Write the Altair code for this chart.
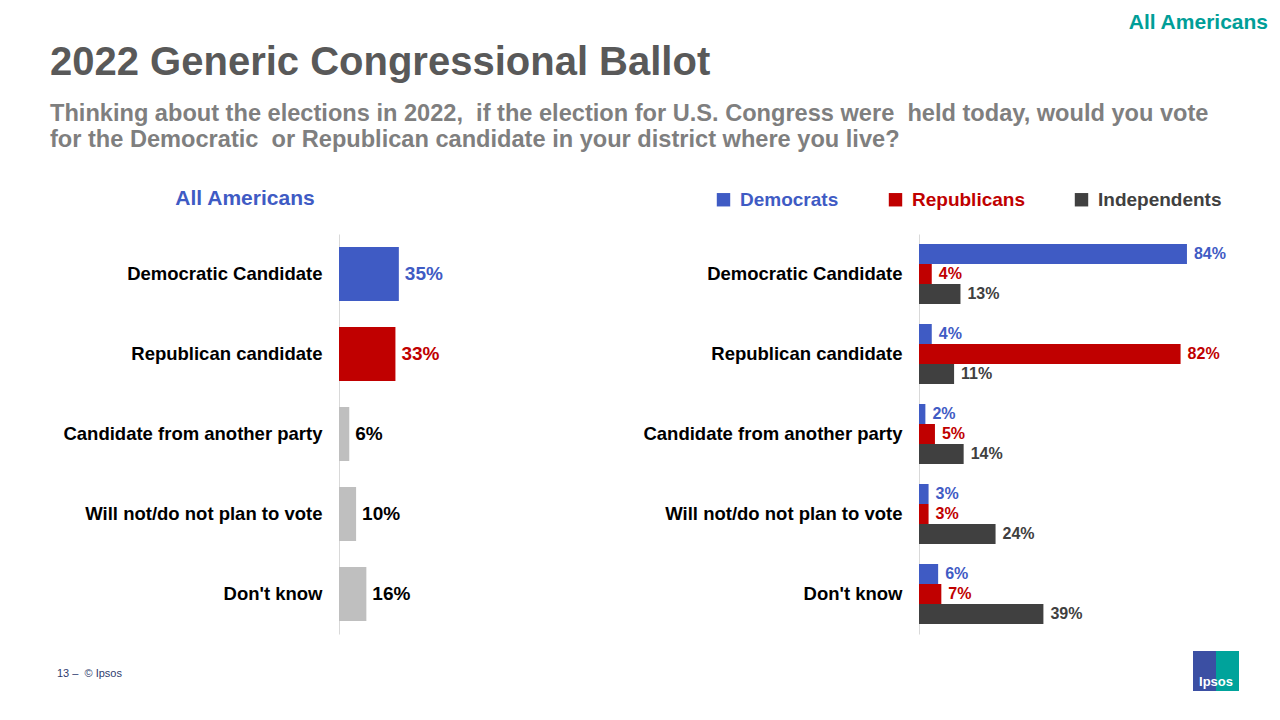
import altair as alt
import pandas as pd

# ---------------- data ----------------
categories = [
    "Democratic Candidate",
    "Republican candidate",
    "Candidate from another party",
    "Will not/do not plan to vote",
    "Don't know",
]
all_americans = [35, 33, 6, 10, 16]

series = ["Democrats", "Republicans", "Independents"]
democrats = [84, 4, 2, 3, 6]
republicans = [4, 82, 5, 3, 7]
independents = [13, 11, 14, 24, 39]

title_text = "2022 Generic Congressional Ballot"
subtitle_lines = [
    "Thinking about the elections in 2022,\u00a0 if the election for U.S. Congress were\u00a0 held today, would you vote",
    "for the Democratic\u00a0 or Republican candidate in your district where you live?",
]
corner_label = "All Americans"
left_header = "All Americans"
footer_text = "13 –\u00a0 © Ipsos"
logo_text = "Ipsos"

# ---------------- styles ----------------
FONT = "Liberation Sans"
BLUE = "#3F5BC4"
RED = "#C00000"
LGRAY = "#BFBFBF"
DGRAY = "#404040"
TEAL = "#009E98"
bar_colors = [BLUE, RED, LGRAY, LGRAY, LGRAY]
label_colors = [BLUE, RED, "#000000", "#000000", "#000000"]
series_colors = [BLUE, RED, DGRAY]

left_df = pd.DataFrame({"answer": categories, "pct": all_americans})
left_df["label"] = left_df["pct"].astype(str) + "%"

rows = []
for s, vals in zip(series, [democrats, republicans, independents]):
    for c, v in zip(categories, vals):
        rows.append({"answer": c, "series": s, "pct": v, "label": f"{v}%"})
right_df = pd.DataFrame(rows)


def y_axis():
    return alt.Axis(
        title=None, labelFont=FONT, labelFontSize=18.5, labelFontWeight="bold",
        labelColor="#000000", labelPadding=17, ticks=False, domainColor="#D9D9D9",
        domainWidth=1, labelLimit=400, grid=False,
    )


# ---------------- left panel ----------------
x_left = alt.X("pct:Q", scale=alt.Scale(domain=[0, 100]), axis=None)
y_left = alt.Y("answer:N", sort=categories,
               scale=alt.Scale(paddingInner=0.325, paddingOuter=0.1625), axis=y_axis())

left_bars = alt.Chart(left_df).mark_bar().encode(
    x=x_left, y=y_left,
    color=alt.Color("answer:N", scale=alt.Scale(domain=categories, range=bar_colors), legend=None),
)
left_text = alt.Chart(left_df).mark_text(
    align="left", baseline="middle", dx=6, font=FONT, fontSize=19, fontWeight="bold"
).encode(
    x=x_left, y=y_left, text="label:N",
    color=alt.Color("answer:N", scale=alt.Scale(domain=categories, range=label_colors), legend=None),
)

one = pd.DataFrame({"k": [0]})


def deco_text(text, x, y, size, color, align="left", weight="bold", **kw):
    return alt.Chart(one).mark_text(
        text=text, align=align, baseline="alphabetic", font=FONT, fontSize=size,
        fontWeight=weight, color=color, **kw
    ).encode(x=alt.value(x), y=alt.value(y))


def deco_rect(x, x2, y, y2, color):
    return alt.Chart(one).mark_rect(color=color).encode(
        x=alt.value(x), x2=alt.value(x2), y=alt.value(y), y2=alt.value(y2)
    )


title_mark = deco_text(title_text, -289, -159, 40, "#595959")
subtitle_mark = deco_text(subtitle_lines, -289, -113, 23.6, "#7F7F7F", lineHeight=26)
corner_mark = deco_text(corner_label, 929, -205, 21, TEAL, align="right")
header_mark = deco_text(left_header, -94, -29, 21, BLUE, align="center")
footer_mark = deco_text(footer_text, -282, 443, 11, "#2E3B6E", weight="normal")
logo_a = deco_rect(854, 877, 417, 457, "#3B4FA3")
logo_b = deco_rect(877, 900, 417, 457, "#00A39B")
logo_t = deco_text(logo_text, 877, 452, 13, "#FFFFFF", align="center")

left = alt.layer(
    left_bars, left_text, title_mark, subtitle_mark, corner_mark, header_mark,
    footer_mark, logo_a, logo_b, logo_t,
).resolve_scale(color="independent").properties(width=171, height=400)

# ---------------- right panel ----------------
x_right = alt.X("pct:Q", scale=alt.Scale(domain=[0, 100]), axis=None)
y_right = alt.Y("answer:N", sort=categories,
                scale=alt.Scale(paddingInner=0.25, paddingOuter=0.125), axis=y_axis())
yoff = alt.YOffset("series:N", sort=series,
                   scale=alt.Scale(domain=series, paddingInner=0, paddingOuter=0))

legend = alt.Legend(
    orient="none", legendX=-205, legendY=-44, direction="horizontal", title=None,
    symbolType="square", symbolSize=180, symbolStrokeWidth=0, symbolOpacity=1,
    labelFont=FONT, labelFontSize=19, labelFontWeight="bold", labelOffset=7,
    columnPadding=47, padding=0, labelLimit=300,
    labelColor={"expr": "datum.label === 'Democrats' ? '#3F5BC4' : datum.label === 'Republicans' ? '#C00000' : '#404040'"},
)

right_bars = alt.Chart(right_df).mark_bar().encode(
    x=x_right, y=y_right, yOffset=yoff,
    color=alt.Color("series:N", sort=series,
                    scale=alt.Scale(domain=series, range=series_colors), legend=legend),
)
right_text = alt.Chart(right_df).mark_text(
    align="left", baseline="middle", dx=7, font=FONT, fontSize=16, fontWeight="bold"
).encode(
    x=x_right, y=y_right, yOffset=yoff, text="label:N",
    color=alt.Color("series:N", sort=series,
                    scale=alt.Scale(domain=series, range=series_colors), legend=None),
)

right = alt.layer(right_bars, right_text).properties(width=319, height=400)

chart = (
    alt.hconcat(left, right, spacing=409, bounds="flush")
    .resolve_scale(color="independent")
    .properties(padding={"left": 42, "top": 4, "right": 0, "bottom": 0}, background="white")
    .configure(font=FONT)
    .configure_view(strokeWidth=0)
)

chart.save("out.html", embed_options={"renderer": "svg", "actions": False})
